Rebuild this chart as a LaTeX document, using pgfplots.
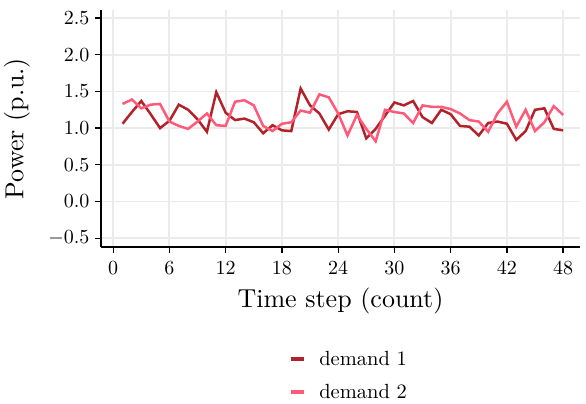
\documentclass[border=0pt]{standalone}
\usepackage{graphicx}
\usepackage{pgfplots}
\pgfplotsset{compat=1.18}
\definecolor{dOne}{RGB}{178,34,40}
\definecolor{dTwo}{RGB}{255,90,122}
\definecolor{gridc}{RGB}{235,235,235}
\begin{document}
\begin{tikzpicture}
\begin{axis}[
  name=ax,
  scale only axis,
  width=479pt, height=237pt,
  xmin=-1.3, xmax=49.8, ymin=-0.62, ymax=2.61,
  axis x line*=bottom, axis y line*=left,
  axis line style={black, line width=1.6pt},
  xtick={0,6,...,48},
  ytick={-0.5,0,0.5,1,1.5,2,2.5},
  xticklabel={\scalebox{2}{$\pgfmathprintnumber{\tick}$}},
  yticklabel={\scalebox{2}{$\pgfmathprintnumber[fixed,precision=1,fixed zerofill]{\tick}$}},
  xticklabel style={yshift=-5pt},
  yticklabel style={xshift=-2pt},
  tick align=outside,
  major tick length=6pt,
  tick style={black, line width=1.3pt},
  grid=major,
  major grid style={gridc, line width=1.9pt},
  xlabel={\scalebox{2.6}{Time step (count)}},
  ylabel={\scalebox{2.6}{Power (p.u.)}},
  xlabel style={at={(axis description cs:0.5,0)}, anchor=center, yshift=-54pt},
  ylabel style={at={(axis description cs:0,0.5)}, anchor=center, yshift=84pt},
  legend style={at={(axis description cs:0.5,0)}, anchor=north, yshift=-100pt, xshift=8.5pt,
    draw=none, fill=none, row sep=13pt},
  legend cell align=left,
  legend image code/.code={\draw[line width=4.5pt,#1] (0pt,0pt) -- (13pt,0pt); \path[draw=none,fill=none] (0pt,0pt) -- (26pt,0pt);},
]
\addplot[dOne, line width=2.5pt] coordinates {
(1,1.06)(2,1.22)(3,1.37)(4,1.19)(5,1.00)(6,1.10)(7,1.32)(8,1.25)(9,1.12)(10,0.95)
(11,1.49)(12,1.21)(13,1.11)(14,1.13)(15,1.08)(16,0.93)(17,1.04)(18,0.97)(19,0.96)(20,1.54)
(21,1.31)(22,1.20)(23,0.98)(24,1.19)(25,1.23)(26,1.22)(27,0.86)(28,0.99)(29,1.17)(30,1.35)
(31,1.31)(32,1.37)(33,1.15)(34,1.07)(35,1.25)(36,1.19)(37,1.03)(38,1.02)(39,0.90)(40,1.07)
(41,1.09)(42,1.06)(43,0.84)(44,0.96)(45,1.25)(46,1.27)(47,0.99)(48,0.97)};
\addlegendentry{\scalebox{2.05}{demand 1}}
\addplot[dTwo, line width=2.5pt] coordinates {
(1,1.33)(2,1.39)(3,1.27)(4,1.32)(5,1.33)(6,1.09)(7,1.03)(8,0.99)(9,1.09)(10,1.20)
(11,1.04)(12,1.03)(13,1.36)(14,1.38)(15,1.31)(16,1.03)(17,0.96)(18,1.06)(19,1.08)(20,1.24)
(21,1.21)(22,1.46)(23,1.42)(24,1.20)(25,0.90)(26,1.18)(27,0.99)(28,0.82)(29,1.25)(30,1.22)
(31,1.20)(32,1.07)(33,1.31)(34,1.29)(35,1.29)(36,1.26)(37,1.20)(38,1.11)(39,1.09)(40,0.95)
(41,1.20)(42,1.36)(43,1.02)(44,1.25)(45,0.96)(46,1.08)(47,1.30)(48,1.18)};
\addlegendentry{\scalebox{2.05}{demand 2}}
\end{axis}
\pgfresetboundingbox
\path[use as bounding box] ([xshift=-101pt,yshift=-156pt]ax.south west) rectangle ([xshift=6pt,yshift=10pt]ax.north east);
\end{tikzpicture}
\end{document}
